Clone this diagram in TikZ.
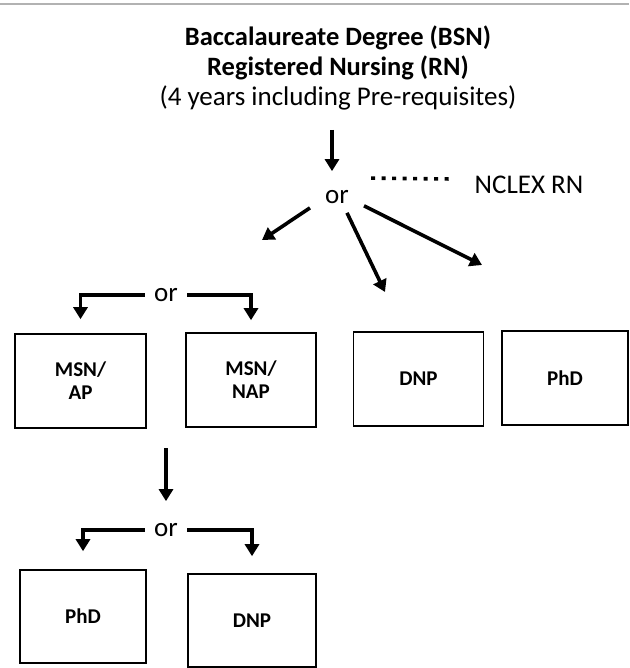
\documentclass[tikz,border=0pt]{standalone}
\usepackage{fontspec}
\setmainfont{Carlito}
\usetikzlibrary{arrows.meta}

\begin{document}
\begin{tikzpicture}[x=1pt,y=-1pt,
  flow/.style={line width=3.6pt,-{Triangle[length=12pt,width=14pt]}},
  degree/.style={draw,line width=1.6pt,minimum height=94pt,inner sep=0pt,
    align=center,font=\bfseries\fontsize{21}{23}\selectfont},
  choice/.style={inner sep=0pt,font=\fontsize{27}{30}\selectfont},
  heading/.style={inner sep=0pt,font=\bfseries\fontsize{26.5}{30}\selectfont}]

\useasboundingbox (0,0) rectangle (629,668);

\draw[gray!60,line width=2pt] (0,4) -- (629,4);

% title
\node[heading] (bsn) at (338,38) {Baccalaureate Degree (BSN)};
\node[heading] (rn) at (338,68) {Registered Nursing (RN)};
\node[choice] (prereq) at (338,98) {(4 years including Pre-requisites)};

% first choice
\node[choice] (or1) at (337,197) {or};
\node[choice] (nclex) at (529,185) {NCLEX RN};
\coordinate (start) at (332,130);
\draw[flow,shorten >=19pt] (start) -- (start |- or1.north);
\draw[line width=3.6pt,dash pattern=on 4pt off 6.5pt]
  ([shift={(22,-12)}]or1.north east) -- ([shift={(-22,-6)}]nclex.west);

\coordinate (toMaster) at (262,240);
\coordinate (toDNP) at (385,292);
\coordinate (toPhD) at (482,265);
\draw[flow] ([shift={(-15,4)}]or1.south west) -- (toMaster);
\draw[flow] ([shift={(10,9)}]or1.south) -- (toDNP);
\draw[flow] ([shift={(15,2)}]or1.south east) -- (toPhD);

% upper row
\node[degree,minimum width=131pt] (msnap) at (80.5,381) {MSN/\\AP};
\node[degree,minimum width=130pt] (msnnap) at (251,380) {MSN/\\NAP};
\node[degree,minimum width=130pt] (dnp) at (418.5,379) {DNP};
\node[degree,minimum width=126pt] (phd) at (565,378) {PhD};

\node[choice] (or2) at (166,295) {or};
\draw[flow,shorten <=9pt,shorten >=14pt] (or2.west) -| (msnap.north);
\draw[flow,shorten <=9pt,shorten >=12pt] (or2.east) -| (msnnap.north);

% second choice
\node[choice] (or3) at (166,530) {or};
\coordinate (split) at (166,448);
\draw[flow,shorten >=22pt] (split) -- (or3.north);

% lower row
\node[degree,minimum width=126pt,minimum height=93pt] (phd2) at (83,616.5) {PhD};
\node[degree,minimum width=128pt,minimum height=93pt] (dnp2) at (252,620.5) {DNP};

\draw[flow,shorten <=9pt,shorten >=18pt] (or3.west) -| (phd2.north);
\draw[flow,shorten <=9pt,shorten >=17pt] (or3.east) -| (dnp2.north);

\end{tikzpicture}
\end{document}
